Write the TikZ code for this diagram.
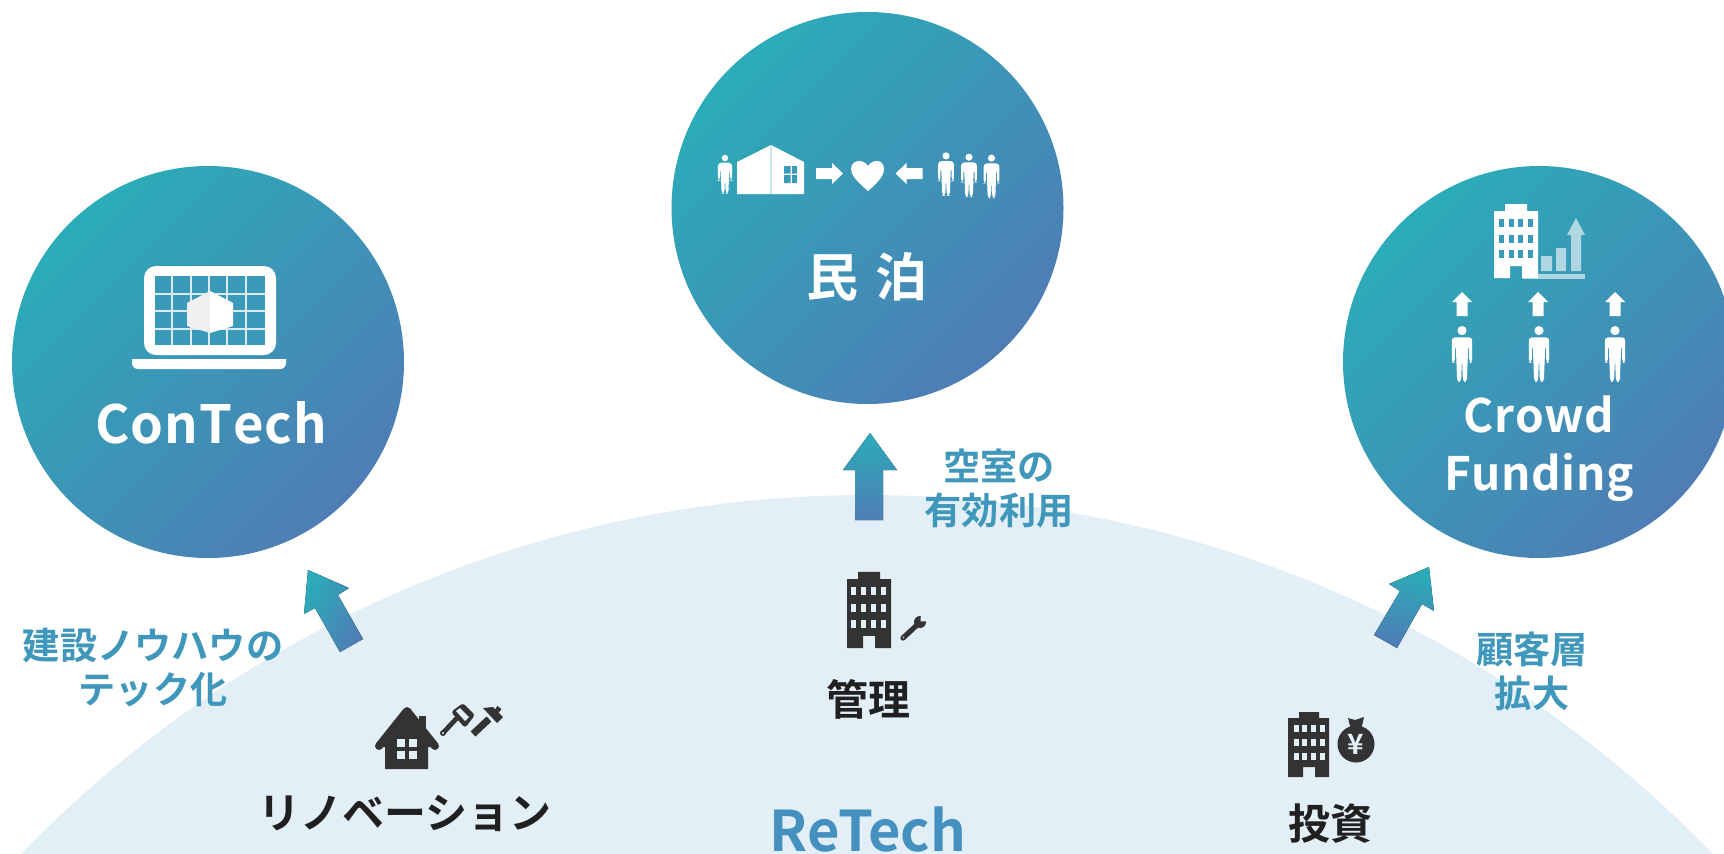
\documentclass[tikz,border=0pt]{standalone}
\usepackage{fontspec}
\setmainfont{Noto Sans CJK JP Bold}
\definecolor{tealA}{RGB}{43,172,184}
\definecolor{blueB}{RGB}{78,125,181}
\definecolor{innerbg}{HTML}{3A9ABA}
\definecolor{pale}{HTML}{E2EFF6}
\definecolor{dark}{HTML}{333333}
\definecolor{labeltxt}{HTML}{202020}
\definecolor{midtxt}{HTML}{3F97BB}
\definecolor{rettxt}{HTML}{4490BF}
\tikzset{
 grad/.style={left color=tealA,right color=blueB,shading angle=#1,draw=none},
 bubble/.style={grad=45,circle,minimum size=196pt,inner sep=0pt},
 white label/.style={text=white,align=center,font=\fontsize{25}{29}\selectfont},
 side label/.style={text=midtxt,align=center,font=\fontsize{18.6}{22}\selectfont},
 dark label/.style={text=labeltxt,font=\fontsize{21}{25}\selectfont},
 person/.pic={
   \fill[white] (0,-17) circle (3.4);
   \fill[white,rounded corners=1.6] (-7.5,-12) -- (7.5,-12) -- (7.5,7) -- (5.4,7) -- (5.2,-6) -- (4.6,-6) -- (3.6,21) -- (0.7,21) -- (0,3) -- (-0.7,21) -- (-3.6,21) -- (-4.6,-6) -- (-5.2,-6) -- (-5.4,7) -- (-7.5,7) -- cycle;
 },
 blockarrow/.pic={
   \fill[white] (0,-10) -- (10,0) -- (5.5,0) -- (5.5,14) -- (-5.5,14) -- (-5.5,0) -- (-10,0) -- cycle;
 },
 sideways/.pic={
   \fill[white] (13.5,0) -- (2.5,-10.5) -- (2.5,-5.5) -- (-13.5,-5.5) -- (-13.5,5.5) -- (2.5,5.5) -- (2.5,10.5) -- cycle;
 },
 tower/.pic={
   \fill[#1] (-22,-30) -- (-11,-30) -- (-11,-37) -- (11,-37) -- (11,-30) -- (22,-30) -- (22,37) -- (6,37) -- (6,25) -- (-6,25) -- (-6,37) -- (-22,37) -- cycle;
 }
}
\begin{document}
\begin{tikzpicture}[x=0.5pt,y=-0.5pt]
\useasboundingbox (0,0) rectangle (1724,853);
\begin{scope}
\clip (0,0) rectangle (1724,853);
\fill[pale] (867,1671) circle (1176);
\node[bubble] (left) at (208,362) {};
\node[bubble] (mid) at (867.5,208) {};
\node[bubble] (right) at (1539,362) {};

% ---- centre icons
\path (725,174) pic[scale=0.94] {person};
\fill[white] (737,162) -- (771,145) -- (804,162) -- (804,194) -- (737,194) -- cycle;
\draw[white!75!innerbg,line width=0.6] (771,145) -- (771,194);
\fill[innerbg] (784,166) rectangle (790.5,173.5) (792,166) rectangle (797,173.5) (784,175) rectangle (790.5,183) (792,175) rectangle (797,183);
\path (829.5,173.5) pic {sideways};
\fill[white] (868,191) .. controls (855,180) and (851,174) .. (851,169) .. controls (851,163) and (856,161) .. (859,161) .. controls (863,161) and (866,163) .. (868,166) .. controls (870,163) and (873,161) .. (877,161) .. controls (880,161) and (884,163) .. (884,169) .. controls (884,174) and (881,180) .. (868,191) -- cycle;
\path (909,173.5) pic[xscale=-1] {sideways};
\path (946,173.7) pic[scale=1.05] {person};
\path (969,175) pic[scale=1.05] {person};
\path (991.5,176) pic[scale=1.05] {person};
\node[white label,font=\fontsize{26}{30}\selectfont] (minpaku) at (867,277) {民\,\,泊};

% ---- left icons
\fill[white,rounded corners=6] (144,266) rectangle (276,355);
\fill[innerbg] (155,276) rectangle (265,345);
\foreach \gx in {172,191,209,227,246}{\draw[white!80!innerbg,line width=1] (\gx,276) -- (\gx,345);}
\foreach \gy in {294,311,329}{\draw[white!80!innerbg,line width=1] (155,\gy) -- (265,\gy);}
\fill[white] (132,359) -- (286,359) -- (286,363) arc (0:90:6) -- (138,369) arc (90:180:6) -- cycle;
\fill[white!94!black] (210,291) -- (187,303) -- (187,326) -- (210,333) -- cycle;
\fill[white] (210,291) -- (233,303) -- (233,326) -- (210,333) -- cycle;
\node[white label,font=\fontsize{26.3}{33}\selectfont] (contech) at (211,423) {C\kern0.5pt o\kern0.5pt n\kern0.5pt T\kern0.5pt e\kern0.5pt c\kern0.5pt h};

% ---- right icons
\path (1516,241) pic {tower=white};
\fill[white,opacity=0.6] (1523,274) rectangle (1585,279);
\fill[white,opacity=0.6] (1541,256) rectangle (1552,271) (1556,248) rectangle (1566,271);
\fill[white,opacity=0.6] (1571,271) -- (1571,235) -- (1567,235) -- (1576,218) -- (1585,235) -- (1581,235) -- (1581,271) -- cycle;
\foreach \ix in {-14.5,-4.5,4.5,14.5}{\foreach \iy in {-18,-2,13}{%
  \fill[innerbg] ({1516+\ix-2.5},{241+\iy-4}) rectangle ({1516+\ix+2.5},{241+\iy+4});}}
\path (1462,302) pic {blockarrow};
\path (1538,302) pic {blockarrow};
\path (1615,302) pic {blockarrow};
\path (1462,353.5) pic[scale=1.35] {person};
\path (1539,353.5) pic[scale=1.35] {person};
\path (1615,353.5) pic[scale=1.35] {person};
\node[white label,font=\fontsize{23}{29}\selectfont] (crowd) at (1539,449) {C\kern0.3pt r\kern0.3pt o\kern0.3pt w\kern0.3pt d\\F\kern0.3pt u\kern0.3pt n\kern0.3pt d\kern0.3pt i\kern0.3pt n\kern0.3pt g};

% ---- arrows
\fill[grad=0] (870,433) -- (897,470) -- (883,470) -- (883,520) -- (855,520) -- (855,470) -- (843,470) -- cycle;
\fill[grad=65] (308,570) -- (349,588) -- (338,595) -- (363,639) -- (340,652) -- (315,608) -- (304,614) -- cycle;
\fill[grad=-15] (1429,567) -- (1434,611) -- (1422,604) -- (1397,648) -- (1374,635) -- (1400,591) -- (1389,584) -- cycle;

% ---- reno icons
\fill[dark] (407,710) -- (436,747) -- (428,747) -- (428,769) -- (385,769) -- (385,747) -- (378,747) -- cycle;
\fill[dark] (419,716) rectangle (426,738);
\draw[dark,line width=4,line cap=round,line join=round] (379,746) -- (407,711) -- (435,746);
\foreach \wx/\wy in {401/743,413/743,401/755,413/755}{\fill[pale] (\wx-4,\wy-4) rectangle (\wx+4,\wy+4);}
% brush
\draw[dark,line width=2.4,line cap=round] (443,733) -- (456,719);
\fill[dark] (443,733) circle (3);
\fill[pale] (443,733) circle (1.1);
\fill[dark,rounded corners=1.5] (451,712) -- (463,703) -- (475,715) -- (465,728) -- cycle;
\fill[pale] (456,711) -- (460,708) -- (469,717) -- (465,721) -- cycle;
% hammer
\draw[dark,line width=3.5] (473,734) -- (489,719);
\fill[dark] (483,708) -- (493,707) -- (503,717) -- (497,723) -- cycle;
\draw[dark,line width=2.5] (496,708) -- (500,711);
\node[dark label] (reno) at (405,813) {リノベーション};

% ---- manage icons
\path (869,610) pic[yscale=1.03] {tower=dark};
\foreach \ix in {-15.5,-5.5,4,14}{\foreach \iy in {-19,-2.5,13.5}{%
  \fill[pale] ({869+\ix-2.5},{610+\iy-4}) rectangle ({869+\ix+2.5},{610+\iy+4});}}
\draw[dark,line width=2.6,line cap=round] (903,638) -- (917,625);
\fill[dark] (920,622) circle (6);
\fill[pale] (920.5,621.5) -- (921,612) -- (930,621) -- cycle;
\fill[pale] (903.5,637.5) circle (0.8);
\node[dark label] (kanri) at (868,699) {管理};

% ---- invest icons
\fill[dark] (1288,718) -- (1299,718) -- (1299,712) -- (1319,712) -- (1319,718) -- (1329,718) -- (1329,777) -- (1315,777) -- (1315,767) -- (1303,767) -- (1303,777) -- (1288,777) -- cycle;
\foreach \ix in {1296,1304.5,1313,1322}{\foreach \iy in {728.5,742.5,756.5}{%
  \fill[pale] ({\ix-2.5},{\iy-3.5}) rectangle ({\ix+2.5},{\iy+3.5});}}
\fill[dark] (1348,718) -- (1355,720) -- (1364,717) -- (1361,730) -- (1351,730) -- cycle;
\fill[dark] (1356,744) circle (18.5);
\node[text=pale,font=\fontsize{14}{14}\selectfont,inner sep=0pt] (yen) at (1356,744) {¥};
\node[dark label] (toushi) at (1330,824) {投資};

% ---- side labels
\node[side label] (kuushitsu) at (999,488) {空室の\\有効利用};
\node[side label] (kensetsu) at (153,668) {建設ノウハウの\\テック化};
\node[side label] (kokyaku) at (1532,671) {顧客層\\拡大};
\node[text=rettxt,font=\fontsize{28}{33}\selectfont,inner sep=0pt,anchor=base] (retech) at (868,851) {ReTech};
\end{scope}
\end{tikzpicture}
\end{document}
